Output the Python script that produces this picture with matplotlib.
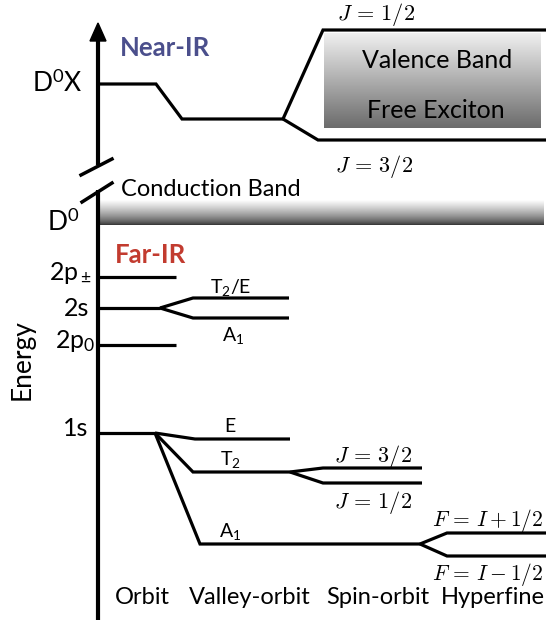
import numpy as np
import matplotlib.pyplot as plt
from matplotlib.patches import Polygon

plt.rcParams['font.family'] = ['Lato', 'DejaVu Sans']
plt.rcParams['mathtext.fontset'] = 'custom'
plt.rcParams['mathtext.rm'] = 'Lato'
plt.rcParams['mathtext.it'] = 'Lato:italic'

# energies (arbitrary units, up = higher energy)
# near-IR: bound exciton D0X and its splitting
dox_E = 536
dox_orbit_E = 501
dox_J = [590, 480]            # J=1/2, J=3/2
dox_J_labels = [r'$J\,=\,1/2$', r'$J\,=\,3/2$']

# far-IR: donor levels
orbit_labels = ['2p$_\\pm$', '2s', '2p$_0$', '1s']
orbit_E = [343, 312, 275, 187]
valley_2s_E = [322, 302]       # T2/E, A1
valley_2s_labels = ['T$_2$/E', 'A$_1$']
valley_1s_E = [181, 148, 76]   # E, T2, A1
valley_1s_labels = ['E', 'T$_2$', 'A$_1$']
spin_E = [152, 137]            # J=3/2, J=1/2
spin_labels = [r'$J\,=\,3/2$', r'$J\,=\,1/2$']
hyper_E = [87, 64]
hyper_labels = [r'$F\,=\,I+1/2$', r'$F\,=\,I-1/2$']
stages = ['Orbit', 'Valley-orbit', 'Spin-orbit', 'Hyperfine']

lw = 2.3
fig = plt.figure(figsize=(5.46, 6.2), dpi=100)
ax = fig.add_axes([0, 0, 1, 1])
ax.set_xlim(0, 546)
ax.set_ylim(0, 620)
ax.axis('off')


def level(xs, ys):
    ax.plot(xs, ys, color='black', lw=lw, solid_capstyle='butt', solid_joinstyle='miter')


# energy axis with break
axx = 98
ax.plot([axx, axx], [455, 585], color='black', lw=3, solid_capstyle='butt')
ax.plot([axx, axx], [0, 430], color='black', lw=3, solid_capstyle='butt')
ax.add_patch(Polygon([[axx - 8, 579], [axx + 8, 579], [axx, 597]], closed=True, color='black'))
ax.plot([81, 112], [445, 461], color='black', lw=2.5)
ax.plot([82, 112], [418, 437], color='black', lw=2.5)

# gradient boxes
grad = np.linspace(0, 1, 256).reshape(-1, 1)
ax.imshow(0.42 + 0.52 * grad, extent=[324, 541, 492, 587], origin='lower', cmap='gray',
          vmin=0, vmax=1, aspect='auto', zorder=0)
ax.imshow(0.18 + 0.82 * grad ** 0.7, extent=[100, 544, 395, 420], origin='lower', cmap='gray',
          vmin=0, vmax=1, aspect='auto', zorder=0)

# near-IR levels
level([axx, 156, 182, 283], [dox_E, dox_E, dox_orbit_E, dox_orbit_E])
level([283, 323, 546], [dox_orbit_E, dox_J[0], dox_J[0]])
level([283, 318, 546], [dox_orbit_E, dox_J[1], dox_J[1]])
ax.text(376, 605, dox_J_labels[0], ha='center', va='center', fontsize=16, math_fontfamily='cm')
ax.text(374, 453, dox_J_labels[1], ha='center', va='center', fontsize=16, math_fontfamily='cm')
ax.text(82, dox_E + 1, 'D$^0$X', ha='right', va='center', fontsize=19)
ax.text(437, 560, 'Valence Band', ha='center', va='center', fontsize=18)
ax.text(436, 510, 'Free Exciton', ha='center', va='center', fontsize=18)
ax.text(120, 572, 'Near-IR', ha='left', va='center', fontsize=18.5, fontweight='bold', color='#4b4f8c')

ax.text(121, 430, 'Conduction Band', ha='left', va='center', fontsize=17)
ax.text(79, 398, 'D$^0$', ha='right', va='center', fontsize=19)
ax.text(115, 365, 'Far-IR', ha='left', va='center', fontsize=18.5, fontweight='bold', color='#c23b2f')

# orbit levels
orbit_end = {'2p$_\\pm$': 176, '2s': 160, '2p$_0$': 176, '1s': 155}
label_right = {'2p$_\\pm$': 92, '2s': 89, '2p$_0$': 95, '1s': 88}
label_y_shift = {'2p$_\\pm$': 4, '2s': 0, '2p$_0$': 4, '1s': 5}
for lab, e in zip(orbit_labels, orbit_E):
    level([axx, orbit_end[lab]], [e, e])
    ax.text(label_right[lab], e + label_y_shift[lab], lab, ha='right', va='center', fontsize=18)

# valley-orbit of 2s
for lab, e, x, dy in zip(valley_2s_labels, valley_2s_E, [231, 233], [11, -17]):
    level([160, 193, 289], [orbit_E[1], e, e])
    ax.text(x, e + dy, lab, ha='center', va='center', fontsize=14)

# valley-orbit of 1s
vo_start = [195, 193, 200]
vo_end = [290, 290, 420]
for lab, e, xs, xe in zip(valley_1s_labels, valley_1s_E, vo_start, vo_end):
    level([155, xs, xe], [orbit_E[3], e, e])
    ax.text(230, e + 13, lab, ha='center', va='center', fontsize=14)

# spin-orbit of T2
for lab, e, dy in zip(spin_labels, spin_E, [11, -19]):
    level([290, 323, 422], [valley_1s_E[1], e, e])
    ax.text(373, e + dy, lab, ha='center', va='center', fontsize=16, math_fontfamily='cm')

# hyperfine of A1
for lab, e, dy in zip(hyper_labels, hyper_E, [13, -19]):
    level([420, 447, 546], [valley_1s_E[2], e, e])
    ax.text(488, e + dy, lab, ha='center', va='center', fontsize=15.5, math_fontfamily='cm')

ax.text(22, 260, 'Energy', ha='center', va='center', rotation=90, fontsize=19)
for name, x in zip(stages, [142, 250, 378, 493]):
    ax.text(x, 23, name, ha='center', va='center', fontsize=17)

fig.savefig('out.png', dpi=100)
